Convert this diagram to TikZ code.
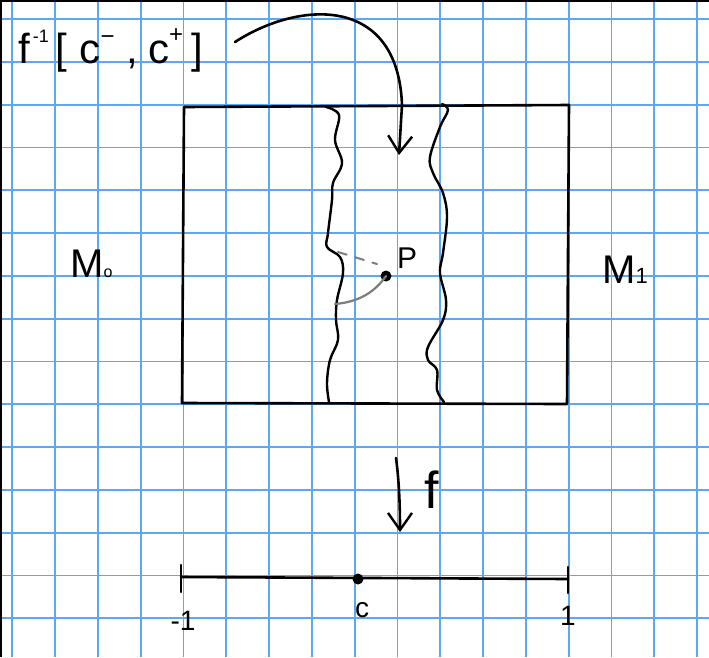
\documentclass[tikz,border=0pt]{standalone}
\usepackage{fontspec}
\setmainfont{Liberation Sans}
\usetikzlibrary{arrows.meta}
\definecolor{gridblue}{RGB}{92,168,245}
\definecolor{pencilgray}{RGB}{125,125,125}
\tikzset{
  gridline/.style={gridblue, line width=1.8pt},
  ink/.style={black, line width=2.6pt, line cap=round, line join=round},
  wavy/.style={ink, line width=2.4pt},
  hand/.style={inner sep=0pt, text=black},
  barb/.style={-{Straight Barb[length=17pt, width=24pt, line width=2.4pt]}},
  dotstyle/.style={circle, fill=black, inner sep=0pt, minimum size=11pt},
}
\begin{document}
\begin{tikzpicture}[x=1pt, y=-1pt]
\useasboundingbox (0,0) rectangle (709,657);
\fill[white] (0,0) rectangle (709,657);
% grid paper
\foreach \i in {0,...,16} \draw[gridline] ({12.3+42.8*\i},0) -- ({12.3+42.8*\i},657);
\foreach \j in {0,...,14} \draw[gridline] (0,{19+42.8*\j}) -- (709,{19+42.8*\j});
% page edge
\draw[black, line width=3pt] (0,657) -- (0,0) -- (709,0);

% rectangle M
\coordinate (tl) at (184,107);
\coordinate (tr) at (569,105);
\coordinate (br) at (567,404);
\coordinate (bl) at (182,403);
\draw[ink] (tl) -- (tr) -- (br) -- (bl) -- cycle;

% left wavy boundary
\draw[wavy] plot[smooth, tension=0.6] coordinates {
 (326,107) (339,115) (335,140) (342,163) (333,183) (332,200) (328,233) (327,247)
 (340,257) (343,273) (337,300) (336,320) (338,340) (330,360) (327,383) (329,402)};
% right wavy boundary
\draw[wavy] plot[smooth, tension=0.6] coordinates {
 (442,104) (448,110) (440,127) (430,157) (433,173) (443,193) (447,217) (443,253)
 (440,273) (446,300) (443,320) (428,347) (428,360) (437,370) (437,390) (444,402)};

% point p
\node[dotstyle] (p) at (386,276) {};
\node[hand, anchor=base west, font=\fontsize{30}{34}\selectfont] (plabel) at (397,268) {P};
\coordinate (pl1) at (338,252);
\coordinate (pl2) at (377,264);
\draw[pencilgray, line width=2pt, dash pattern=on 9pt off 9pt, line cap=round] (pl1) -- (pl2);
\coordinate (pl3) at (335,304);
\draw[pencilgray, line width=2.2pt, line cap=round] (p.center) .. controls (374,293) and (358,302) .. (pl3);

% labels M0, M1
\node[hand, anchor=base west, font=\fontsize{40}{46}\selectfont] (m0) at (70,277) {M\raisebox{0pt}{\fontsize{16}{16}\selectfont o}};
\node[hand, anchor=base west, font=\fontsize{40}{46}\selectfont] (m1) at (602,283) {M\fontsize{22}{22}\selectfont 1};

% preimage label
\node[hand, anchor=base west, font=\fontsize{42}{50}\selectfont] (pre) at (18,63)
 {f\hspace{3pt}\raisebox{0.48em}{\fontsize{18}{18}\selectfont -1}\hspace{7pt}[\hspace{12pt}c\raisebox{0.45em}{\fontsize{24}{24}\selectfont −}\hspace{12pt},\hspace{10pt}c\raisebox{0.5em}{\fontsize{24}{24}\selectfont +}\hspace{8pt}]};
\coordinate (a1) at (235,42);
\coordinate (a2) at (399,155);
\draw[ink, barb] (a1) .. controls (300,0) and (398,-5) .. (402,105) -- (a2);

% map f
\coordinate (f1) at (396,458);
\coordinate (f2) at (400,532);
\draw[ink, barb] (f1) .. controls (399,480) and (400,505) .. (f2);
\node[hand, anchor=base west, font=\fontsize{52}{60}\selectfont] (flabel) at (424,508) {f};

% interval
\coordinate (im1) at (181,577);
\coordinate (ip1) at (568,579);
\draw[ink] (im1) -- (ip1);
\draw[ink] (181,565) -- (181,592);
\draw[ink] (568,567) -- (568,593);
\node[dotstyle] (c) at (358,579) {};
\node[hand, anchor=base, font=\fontsize{28}{32}\selectfont] (lm1) at (183,630) {-1};
\node[hand, anchor=base, font=\fontsize{28}{32}\selectfont] (lc) at (362,617) {c};
\node[hand, anchor=base, font=\fontsize{28}{32}\selectfont] (lp1) at (568,625) {1};
\end{tikzpicture}
\end{document}
